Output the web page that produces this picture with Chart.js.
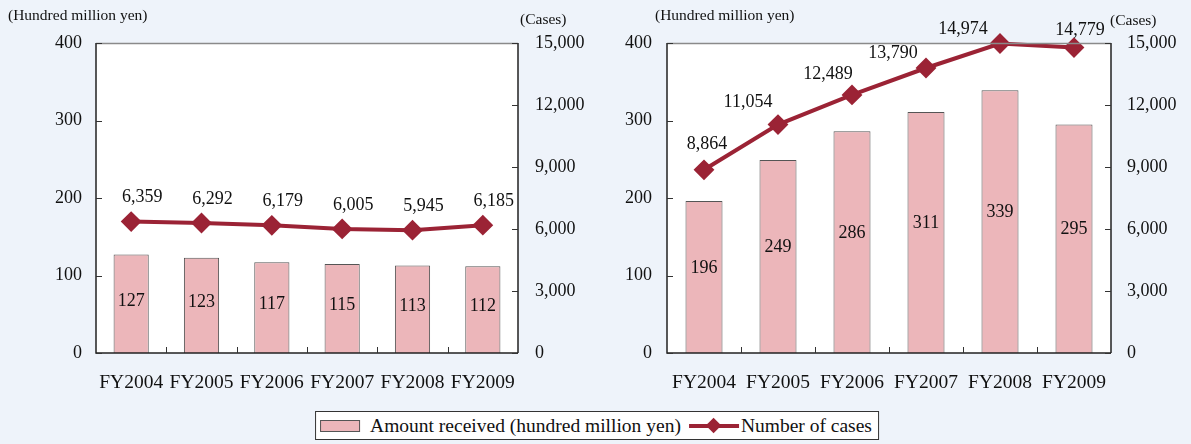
<!DOCTYPE html>
<html>
<head>
<meta charset="utf-8">
<script src="https://cdn.jsdelivr.net/npm/chart.js@4/dist/chart.umd.min.js"></script>
<style>
  html, body { margin: 0; padding: 0; background: #eef3fa; }
  body { width: 1191px; height: 444px; position: relative; overflow: hidden; font-family: "Liberation Serif", "Times New Roman", serif; }
  .panel { position: absolute; top: 0; height: 405px; }
  #left-panel { left: 0; width: 595px; }
  #right-panel { left: 595px; width: 596px; }
  .legend {
    position: absolute; top: 411px; left: 597px; transform: translateX(-50%);
    height: 27px; border: 1px solid #333; background: #fff;
    display: flex; align-items: center; padding: 0 6px 0 4px; white-space: nowrap;
    font-size: 19.5px; color: #111;
  }
  .swatch { width: 38px; height: 10px; background: #ecb6ba; border: 1px solid #555; margin-right: 10px; }
  .lineicon { position: relative; width: 50px; height: 16px; margin: 0 2px 0 8px; }
  .lineicon .bar { position: absolute; left: 0; right: 0; top: 6px; height: 4px; background: #9b2335; }
  .lineicon .dot { position: absolute; left: 19px; top: 2px; width: 11px; height: 11px; background: #9b2335; transform: rotate(45deg); }
</style>
</head>
<body>
<div class="panel" id="left-panel"><canvas id="left-chart"></canvas></div>
<div class="panel" id="right-panel"><canvas id="right-chart"></canvas></div>
<div class="legend">
  <span class="swatch"></span><span id="bar-name"></span>
  <span class="lineicon"><span class="bar"></span><span class="dot"></span></span><span id="line-name"></span>
</div>
<script>
// 年度
const years = ['FY2004', 'FY2005', 'FY2006', 'FY2007', 'FY2008', 'FY2009'];

// 左图：受理金额（亿日元）与件数
const leftAmount = [127, 123, 117, 115, 113, 112];
const leftCases = [6359, 6292, 6179, 6005, 5945, 6185];

// 右图
const rightAmount = [196, 249, 286, 311, 339, 295];
const rightCases = [8864, 11054, 12489, 13790, 14974, 14779];

// 坐标轴刻度
const amountTicks = { min: 0, max: 400, step: 100 };
const caseTicks = { min: 0, max: 15000, step: 3000 };

const barName = 'Amount received (hundred million yen)';
const lineName = 'Number of cases';
const amountTitle = '(Hundred million yen)';
const casesTitle = '(Cases)';

const FONT = '"Liberation Serif", "Times New Roman", serif';
const LINE_COLOR = '#9b2335';
const BAR_COLOR = '#ecb6ba';

document.getElementById('bar-name').textContent = barName;
document.getElementById('line-name').textContent = lineName;

const fmt = v => v.toLocaleString('en-US');

// 绘图区底色、边框、向内刻度、轴标题和数值标签
const framePlugin = {
  id: 'frame',
  beforeDatasetsDraw(chart) {
    const { ctx, chartArea: a } = chart;
    ctx.save();
    ctx.fillStyle = '#fff';
    ctx.fillRect(a.left, a.top, a.right - a.left, a.bottom - a.top);
    ctx.restore();
  },
  afterDatasetsDraw(chart, args, opts) {
    const { ctx, chartArea: a, scales } = chart;
    ctx.save();
    // 上边框
    ctx.strokeStyle = '#8a8a8a';
    ctx.lineWidth = 1.5;
    ctx.beginPath();
    ctx.moveTo(a.left, a.top + 0.5);
    ctx.lineTo(a.right, a.top + 0.5);
    ctx.stroke();
    // 左、右、下轴线
    ctx.strokeStyle = '#222';
    ctx.lineWidth = 1.5;
    ctx.beginPath();
    ctx.moveTo(a.left, a.top);
    ctx.lineTo(a.left, a.bottom);
    ctx.lineTo(a.right, a.bottom);
    ctx.moveTo(a.right, a.top);
    ctx.lineTo(a.right, a.bottom);
    ctx.stroke();
    // 向内的刻度
    ctx.lineWidth = 1;
    ctx.strokeStyle = '#333';
    ctx.beginPath();
    scales.y.ticks.forEach(t => {
      const y = Math.round(scales.y.getPixelForValue(t.value)) + 0.5;
      ctx.moveTo(a.left, y); ctx.lineTo(a.left + 6, y);
    });
    scales.y1.ticks.forEach(t => {
      const y = Math.round(scales.y1.getPixelForValue(t.value)) + 0.5;
      ctx.moveTo(a.right, y); ctx.lineTo(a.right - 6, y);
    });
    const step = (a.right - a.left) / years.length;
    for (let i = 1; i < years.length; i++) {
      const x = Math.round(a.left + step * i) + 0.5;
      ctx.moveTo(x, a.bottom); ctx.lineTo(x, a.bottom - 6);
    }
    ctx.stroke();

    ctx.fillStyle = '#111';
    ctx.textAlign = 'center';
    ctx.textBaseline = 'middle';
    ctx.font = '18px ' + FONT;
    // 柱内数值
    const barMeta = chart.getDatasetMeta(0);
    barMeta.data.forEach((bar, i) => {
      const mid = (bar.y + bar.base) / 2 + opts.barLabelDy;
      ctx.fillText(String(chart.data.datasets[0].data[i]), bar.x, mid);
    });
    // 折线数值
    const lineMeta = chart.getDatasetMeta(1);
    lineMeta.data.forEach((pt, i) => {
      const [dx, dy] = opts.lineLabelOffsets[i];
      ctx.fillText(fmt(chart.data.datasets[1].data[i]), pt.x + dx, pt.y + dy);
    });
    ctx.restore();
  },
  afterDraw(chart, args, opts) {
    const { ctx } = chart;
    ctx.save();
    ctx.fillStyle = '#111';
    ctx.textBaseline = 'middle';
    ctx.textAlign = 'left';
    ctx.font = '15.5px ' + FONT;
    ctx.fillText(amountTitle, opts.leftTitle[0], opts.leftTitle[1]);
    ctx.fillText(casesTitle, opts.rightTitle[0], opts.rightTitle[1]);
    ctx.restore();
  }
};

function makeChart(id, amount, cases, layout) {
  const tickFont = { family: FONT, size: 18 };
  return new Chart(document.getElementById(id), {
    type: 'bar',
    data: {
      labels: years,
      datasets: [{
        type: 'bar',
        label: barName,
        data: amount,
        yAxisID: 'y',
        backgroundColor: BAR_COLOR,
        borderColor: '#555',
        borderWidth: 1,
        categoryPercentage: 1,
        barPercentage: 0.5,
        order: 2
      }, {
        type: 'line',
        label: lineName,
        data: cases,
        yAxisID: 'y1',
        borderColor: LINE_COLOR,
        borderWidth: 4,
        pointStyle: 'rectRot',
        pointRadius: 9,
        pointBackgroundColor: LINE_COLOR,
        pointBorderColor: LINE_COLOR,
        pointBorderWidth: 2,
        tension: 0,
        clip: false,
        order: 1
      }]
    },
    options: {
      responsive: true,
      maintainAspectRatio: false,
      animation: false,
      layout: { padding: { top: 43, left: 0, right: 0, bottom: 0 } },
      plugins: {
        legend: { display: false },
        tooltip: { enabled: false },
        frame: layout.frame
      },
      scales: {
        x: {
          grid: { display: false, drawTicks: false },
          border: { display: false },
          ticks: { font: { family: FONT, size: 19.5 }, color: '#111', padding: 18, maxRotation: 0, autoSkip: false },
          afterFit(s) { s.height = 52; }
        },
        y: {
          position: 'left',
          min: amountTicks.min, max: amountTicks.max,
          grid: { display: false, drawTicks: false },
          border: { display: false },
          ticks: { stepSize: amountTicks.step, font: tickFont, color: '#111', padding: layout.yPad },
          afterFit(s) { s.width = layout.yWidth; }
        },
        y1: {
          position: 'right',
          min: caseTicks.min, max: caseTicks.max,
          grid: { display: false, drawTicks: false },
          border: { display: false },
          ticks: { stepSize: caseTicks.step, font: tickFont, color: '#111', padding: layout.y1Pad, callback: v => fmt(v) },
          afterFit(s) { s.width = layout.y1Width; }
        }
      }
    },
    plugins: [framePlugin]
  });
}

makeChart('left-chart', leftAmount, leftCases, {
  yWidth: 96, yPad: 14, y1Width: 77, y1Pad: 17,
  frame: {
    barLabelDy: -3,
    lineLabelOffsets: [[11, -24], [11, -24], [11, -24], [11, -24], [11, -24], [11, -24]],
    leftTitle: [8, 16],
    rightTitle: [520, 20]
  }
});

makeChart('right-chart', rightAmount, rightCases, {
  yWidth: 72, yPad: 15, y1Width: 80, y1Pad: 16,
  frame: {
    barLabelDy: -9,
    lineLabelOffsets: [[3, -26], [-30, -22], [-24, -21], [-33, -15], [-37, -14], [6, -17]],
    leftTitle: [60, 16],
    rightTitle: [515, 21]
  }
});
</script>
</body>
</html>
